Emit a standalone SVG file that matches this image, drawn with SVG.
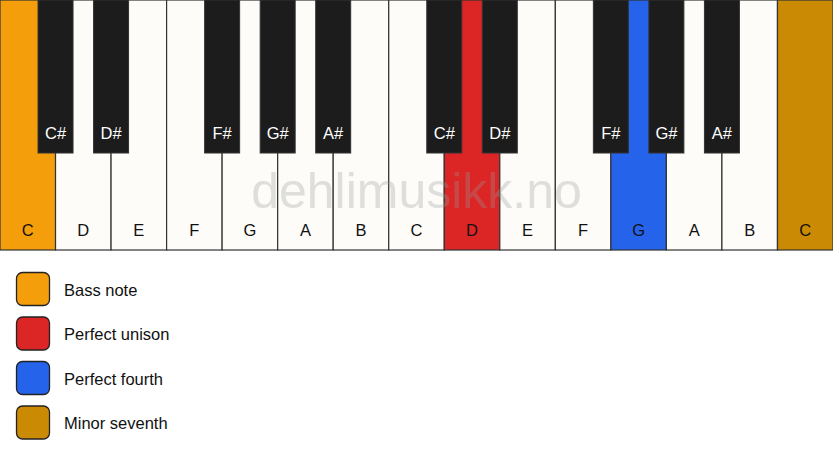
<svg xmlns="http://www.w3.org/2000/svg" width="833" height="461" viewBox="0 0 833 461">
<style>
.w{fill:#fdfcf9;stroke:#333;stroke-width:1.2}
.b{fill:#1c1c1c;stroke:#333;stroke-width:1}
.wl{font-family:"Liberation Sans",Arial,sans-serif;font-size:16.5px;fill:#111;text-anchor:middle}
.bl{font-family:"Liberation Sans",Arial,sans-serif;font-size:16.5px;fill:#fff;text-anchor:middle}
.lg{stroke:#222;stroke-width:1.3}
.lt{font-family:"Liberation Sans",Arial,sans-serif;font-size:16.5px;fill:#111}
</style>
<rect width="833" height="461" fill="#fff"/>
<g id="white-keys">
<g id="w0"><rect class="w" x="0" y="0" width="55.53" height="250" style="fill:#f59e0b"/><text class="wl" x="27.77" y="236">C</text></g>
<g id="w1"><rect class="w" x="55.53" y="0" width="55.53" height="250"/><text class="wl" x="83.3" y="236">D</text></g>
<g id="w2"><rect class="w" x="111.07" y="0" width="55.53" height="250"/><text class="wl" x="138.83" y="236">E</text></g>
<g id="w3"><rect class="w" x="166.6" y="0" width="55.53" height="250"/><text class="wl" x="194.37" y="236">F</text></g>
<g id="w4"><rect class="w" x="222.13" y="0" width="55.53" height="250"/><text class="wl" x="249.9" y="236">G</text></g>
<g id="w5"><rect class="w" x="277.67" y="0" width="55.53" height="250"/><text class="wl" x="305.43" y="236">A</text></g>
<g id="w6"><rect class="w" x="333.2" y="0" width="55.53" height="250"/><text class="wl" x="360.97" y="236">B</text></g>
<g id="w7"><rect class="w" x="388.73" y="0" width="55.53" height="250"/><text class="wl" x="416.5" y="236">C</text></g>
<g id="w8"><rect class="w" x="444.27" y="0" width="55.53" height="250" style="fill:#dc2626"/><text class="wl" x="472.03" y="236">D</text></g>
<g id="w9"><rect class="w" x="499.8" y="0" width="55.53" height="250"/><text class="wl" x="527.57" y="236">E</text></g>
<g id="w10"><rect class="w" x="555.33" y="0" width="55.53" height="250"/><text class="wl" x="583.1" y="236">F</text></g>
<g id="w11"><rect class="w" x="610.87" y="0" width="55.53" height="250" style="fill:#2563eb"/><text class="wl" x="638.63" y="236">G</text></g>
<g id="w12"><rect class="w" x="666.4" y="0" width="55.53" height="250"/><text class="wl" x="694.17" y="236">A</text></g>
<g id="w13"><rect class="w" x="721.93" y="0" width="55.53" height="250"/><text class="wl" x="749.7" y="236">B</text></g>
<g id="w14"><rect class="w" x="777.47" y="0" width="55.53" height="250" style="fill:#ca8a04"/><text class="wl" x="805.23" y="236">C</text></g>
</g>
<text x="416.5" y="208" font-family="Liberation Sans,Arial,sans-serif" font-size="50" fill="#999" fill-opacity="0.3" text-anchor="middle">dehlimusikk.no</text>
<g id="black-keys">
<g id="b0"><rect class="b" x="38.03" y="0" width="35" height="153"/><text class="bl" x="55.53" y="139">C#</text></g>
<g id="b1"><rect class="b" x="93.57" y="0" width="35" height="153"/><text class="bl" x="111.07" y="139">D#</text></g>
<g id="b2"><rect class="b" x="204.63" y="0" width="35" height="153"/><text class="bl" x="222.13" y="139">F#</text></g>
<g id="b3"><rect class="b" x="260.17" y="0" width="35" height="153"/><text class="bl" x="277.67" y="139">G#</text></g>
<g id="b4"><rect class="b" x="315.7" y="0" width="35" height="153"/><text class="bl" x="333.2" y="139">A#</text></g>
<g id="b5"><rect class="b" x="426.77" y="0" width="35" height="153"/><text class="bl" x="444.27" y="139">C#</text></g>
<g id="b6"><rect class="b" x="482.3" y="0" width="35" height="153"/><text class="bl" x="499.8" y="139">D#</text></g>
<g id="b7"><rect class="b" x="593.37" y="0" width="35" height="153"/><text class="bl" x="610.87" y="139">F#</text></g>
<g id="b8"><rect class="b" x="648.9" y="0" width="35" height="153"/><text class="bl" x="666.4" y="139">G#</text></g>
<g id="b9"><rect class="b" x="704.43" y="0" width="35" height="153"/><text class="bl" x="721.93" y="139">A#</text></g>
</g>
<g id="legend">
<g id="lg0"><rect class="lg" x="16.5" y="272.5" width="33" height="33" rx="6" fill="#f59e0b"/><text class="lt" x="64" y="295.5">Bass note</text></g>
<g id="lg1"><rect class="lg" x="16.5" y="317" width="33" height="33" rx="6" fill="#dc2626"/><text class="lt" x="64" y="340">Perfect unison</text></g>
<g id="lg2"><rect class="lg" x="16.5" y="361.5" width="33" height="33" rx="6" fill="#2563eb"/><text class="lt" x="64" y="384.5">Perfect fourth</text></g>
<g id="lg3"><rect class="lg" x="16.5" y="406" width="33" height="33" rx="6" fill="#ca8a04"/><text class="lt" x="64" y="429">Minor seventh</text></g>
</g>
</svg>
